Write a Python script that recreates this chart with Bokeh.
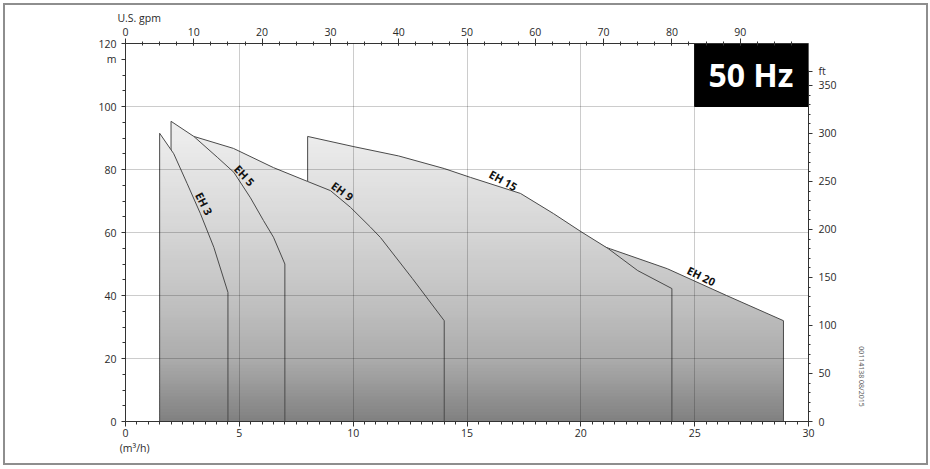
import numpy as np
from bokeh.plotting import figure
from bokeh.models import Range1d, LinearAxis, FixedTicker, Label, ColumnDataSource
from bokeh.core.properties import value
from bokeh.embed import file_html
from bokeh.resources import INLINE

# ---------------- data ----------------
pump_names = ["EH 20", "EH 15", "EH 9", "EH 5", "EH 3"]   # drawing order (back to front)

flow_eh3 = [1.5, 2.12, 2.71, 3.29, 3.88, 4.5]
head_eh3 = [91.5, 85.0, 75.5, 66.0, 55.3, 41.0]

flow_eh5 = [2.0, 3.0, 4.03, 4.76, 5.49, 6.06, 6.5, 7.0]
head_eh5 = [95.3, 90.5, 83.9, 79.1, 71.0, 63.8, 58.5, 50.0]

flow_eh9 = [3.0, 4.74, 6.5, 8.0, 9.0, 9.88, 10.76, 11.2, 12.6, 14.0]
head_eh9 = [90.5, 86.7, 80.6, 76.2, 73.3, 68.0, 61.7, 58.4, 45.4, 32.0]

flow_eh15 = [8.0, 10.0, 12.0, 14.0, 15.15, 17.35, 18.8, 20.0, 21.2, 22.5, 24.0]
head_eh15 = [90.5, 87.3, 84.3, 80.3, 77.5, 72.4, 66.0, 60.3, 54.9, 47.9, 42.2]

flow_eh20 = [20.5, 21.3, 23.8, 26.4, 28.9]
head_eh20 = [56.8, 54.8, 48.5, 40.0, 32.0]

# curve labels: flow at which each label sits on its curve, and rotation (deg)
label_text = ["EH 3", "EH 5", "EH 9", "EH 15", "EH 20"]
label_flow = [3.16, 4.99, 9.34, 16.44, 25.15]
label_angle = [-63, -47, -36, -29, -26.5]

# axes ticks
x_ticks = [0, 5, 10, 15, 20, 25, 30]
y_ticks = [0, 20, 40, 60, 80, 100, 120]
gpm_ticks = [0, 10, 20, 30, 40, 50, 60, 70, 80, 90]
ft_ticks = [0, 50, 100, 150, 200, 250, 300, 350]

# unit names and note
unit_flow_top = "U.S. gpm"
unit_flow_bottom = "(m³/h)"
unit_head_left = "m"
unit_head_right = "ft"
drawing_note = "00114138  08/2015"

M_TO_FT = 3.28084

curves = {
    "EH 3": (flow_eh3, head_eh3),
    "EH 5": (flow_eh5, head_eh5),
    "EH 9": (flow_eh9, head_eh9),
    "EH 15": (flow_eh15, head_eh15),
    "EH 20": (flow_eh20, head_eh20),
}

# ---------------- helpers ----------------
def clip(poly, y0, keep_above):
    out = []
    n = len(poly)
    for i in range(n):
        cur, prev = poly[i], poly[i - 1]
        cin = cur[1] >= y0 if keep_above else cur[1] <= y0
        pin = prev[1] >= y0 if keep_above else prev[1] <= y0
        if cin:
            if not pin:
                t = (y0 - prev[1]) / (cur[1] - prev[1])
                out.append((prev[0] + t * (cur[0] - prev[0]), y0))
            out.append(cur)
        elif pin:
            t = (y0 - prev[1]) / (cur[1] - prev[1])
            out.append((prev[0] + t * (cur[0] - prev[0]), y0))
    return out

grad_y = [0, 20, 40, 60, 90, 120]
grad_g = [128, 172, 195, 213, 236, 245]

def gray(y):
    g = int(round(np.interp(y, grad_y, grad_g)))
    return "#%02x%02x%02x" % (g, g, g)

# ---------------- figure ----------------
W, H = 921, 458
p = figure(width=W, height=H,
           x_range=Range1d(0, 30), y_range=Range1d(0, 120),
           output_backend="svg", toolbar_location=None,
           min_border_left=120, min_border_right=118,
           min_border_top=38, min_border_bottom=42)
p.outline_line_color = None
p.background_fill_color = "white"
p.border_fill_color = "white"
p.styles = {"margin": "5px", "outline": "2px solid #8e8e8e", "outline-offset": "0px"}

p.extra_x_ranges = {"gpm": Range1d(0, 100)}
p.extra_y_ranges = {"ft": Range1d(0, 120 * M_TO_FT)}

FONT = "Open Sans"
TXT = "#2a2a2a"

def style_axis(ax, tin, tout, mtin, mtout, standoff):
    ax.axis_line_color = "#333333"
    ax.major_tick_line_color = "#333333"
    ax.minor_tick_line_color = "#333333"
    ax.major_tick_in = tin
    ax.major_tick_out = tout
    ax.minor_tick_in = mtin
    ax.minor_tick_out = mtout
    ax.major_label_text_font = FONT
    ax.major_label_text_font_size = "10.5px"
    ax.major_label_text_color = TXT
    ax.major_label_standoff = standoff

def text_axis(ax, standoff, size="10.5px", color=TXT):
    ax.axis_line_color = None
    ax.major_tick_line_color = None
    ax.minor_tick_line_color = None
    ax.major_tick_in = 0
    ax.major_tick_out = 0
    ax.minor_tick_in = 0
    ax.minor_tick_out = 0
    ax.major_label_text_font = FONT
    ax.major_label_text_font_size = size
    ax.major_label_text_color = color
    ax.major_label_standoff = standoff

# bottom axis (m3/h)
xa = p.xaxis[0]
xa.ticker = FixedTicker(ticks=x_ticks, minor_ticks=list(np.arange(0, 30.01, 0.5)))
style_axis(xa, 0, 5, 0, 3, 2)

# left axis (m) with the unit name in place of the 115 tick
ya = p.yaxis[0]
ya.ticker = FixedTicker(ticks=y_ticks + [115], minor_ticks=list(range(0, 121, 5)))
ya.major_label_overrides = {115: unit_head_left}
style_axis(ya, 0, 4, 0, 3, 5)

# top axis (US gpm)
top = LinearAxis(x_range_name="gpm",
                 ticker=FixedTicker(ticks=gpm_ticks, minor_ticks=list(np.arange(0, 97.6, 2.5))))
style_axis(top, 2, 5, 2, 2, 3)
p.add_layout(top, "above")

# right axis (ft) with the unit name just above 350
right = LinearAxis(y_range_name="ft", bounds=(0, 366),
                   ticker=FixedTicker(ticks=ft_ticks + [365], minor_ticks=list(range(0, 351, 10))))
right.major_label_overrides = {365: unit_head_right}
style_axis(right, 0, 4, 0, 2, 6)
p.add_layout(right, "right")

# unit captions as label-only axes (outside the plot frame)
top_cap = LinearAxis(x_range_name="gpm", ticker=FixedTicker(ticks=[2]))
top_cap.major_label_overrides = {2: unit_flow_top}
text_axis(top_cap, 0)
p.add_layout(top_cap, "above")

bot_cap = LinearAxis(ticker=FixedTicker(ticks=[0.4]))
bot_cap.major_label_overrides = {0.4: unit_flow_bottom}
text_axis(bot_cap, 1)
p.add_layout(bot_cap, "below")

note_ax = LinearAxis(ticker=FixedTicker(ticks=[14]))
note_ax.major_label_overrides = {14: drawing_note}
note_ax.major_label_orientation = "vertical"
text_axis(note_ax, 17, size="7px", color="#555555")
p.add_layout(note_ax, "right")

# grid drawn above the fills
p.xgrid.grid_line_color = "black"
p.xgrid.grid_line_alpha = 0.2
p.ygrid.grid_line_color = "black"
p.ygrid.grid_line_alpha = 0.2
p.xgrid.level = "guide"
p.ygrid.level = "guide"
p.ygrid.ticker = FixedTicker(ticks=y_ticks)

# ---------------- pump areas ----------------
band_edges = np.arange(0, 100, 1.0)
for name in pump_names:
    fx, fy = curves[name]
    poly = [(fx[0], 0.0)] + list(zip(fx, fy)) + [(fx[-1], 0.0)]
    bxs, bys, bcs = [], [], []
    for a in band_edges:
        b = a + 1.0
        c = clip(poly, a, True)
        if len(c) < 3:
            continue
        c = clip(c, b + 0.4, False)
        if len(c) < 3:
            continue
        bxs.append([q[0] for q in c])
        bys.append([q[1] for q in c])
        bcs.append(gray(a + 0.5))
    p.patches(bxs, bys, fill_color=bcs, line_color=None)
    p.patch([q[0] for q in poly], [q[1] for q in poly],
            fill_alpha=0, line_color="#4a4a4a", line_width=1)

# curve labels, anchored on their curves
label_y = [float(np.interp(fx_, curves[t][0], curves[t][1])) for t, fx_ in zip(label_text, label_flow)]
src = ColumnDataSource(dict(x=label_flow, y=label_y, t=label_text, a=label_angle))
p.text(x="x", y="y", text="t", angle="a", angle_units="deg", source=src,
       text_font=value(FONT), text_font_style="bold", text_font_size="11px",
       text_color="#111111", text_align="center", text_baseline="bottom")

# 50 Hz box
p.quad(left=[25], right=[30], bottom=[100], top=[120], fill_color="black", line_color="black")
p.add_layout(Label(x=27.47, y=110.2, text="50 Hz", text_font=FONT, text_font_style="bold",
                   text_font_size="32px", text_color="white", text_align="center",
                   text_baseline="middle"))

open("out.html", "w").write(file_html(p, INLINE))
